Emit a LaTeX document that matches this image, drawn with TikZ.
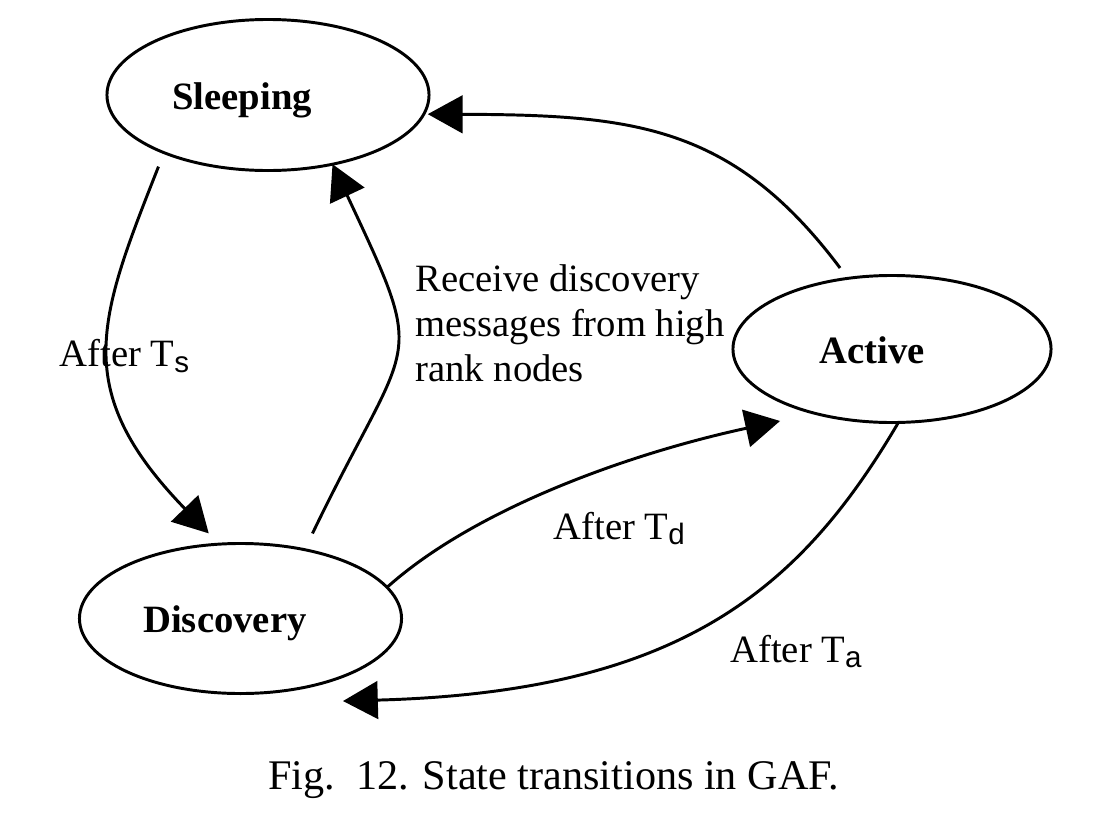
\documentclass[tikz,border=0pt]{standalone}
\usepackage{fontspec}
\setmainfont{Liberation Serif}
\newfontfamily\subfont{Liberation Sans}
\usepackage{tikz}
\usetikzlibrary{shapes.geometric,arrows.meta}

\newcommand{\tidx}[1]{\raisebox{-4pt}{\subfont\fontsize{21}{21}\selectfont #1}}

\begin{document}
\begin{tikzpicture}[x=0.025cm,y=-0.025cm,
	state/.style={ellipse,draw,line width=2.1pt,inner sep=0pt,outer sep=0pt,text height=20.4pt,text depth=0pt,font=\fontsize{27.5}{32}\selectfont\bfseries},
	lbl/.style={inner sep=0pt,font=\fontsize{27.5}{32}\selectfont},
	trans/.style={line width=2.1pt,-{Triangle[length=0.87cm,width=0.94cm]}}]
	\useasboundingbox (0,0) rectangle (1107,823);
	
	\node[state,minimum width=8.05cm,minimum height=3.775cm] (sleep) at (268,95) {Sleeping\hspace*{1.3cm}};
	\node[state,minimum width=8.05cm,minimum height=3.75cm] (disc) at (240.5,618.5) {Discovery\hspace*{0.78cm}};
	\node[state,minimum width=7.95cm,minimum height=3.675cm] (act) at (892,349) {Active\hspace*{1cm}};
	\coordinate (disc-in) at ([shift={(102.5,7.5)}]disc.south);
	
	\draw[trans,shorten <=0.375cm,shorten >=0.375cm] (sleep.209.7) .. controls (98,320) and (70,390) .. (disc.106.5);
	\draw[trans,shorten <=0.45cm] (disc.47.4) .. controls (410.9,328.9) and (429.5,371.1) .. (sleep.313.6);
	\draw[trans,shorten <=0.325cm,shorten >=0.1cm] (act.122.05) .. controls (732,124) and (632,115) .. (sleep.-7);
	\draw[trans,shorten >=0.9cm] (disc.12.1) .. controls (477,506.8) and (634.3,452.4) .. (act.220.4);
	\draw[trans] (act.275) .. controls (800,590) and (680,692) .. (disc-in);
	
	\node[lbl,anchor=base west] (after-s) at (59.3,366.7) {After T\tidx{s}};
	\node[lbl,anchor=north west,align=left] (recv) at (415,264.6) {Receive discovery\\messages from high\\rank nodes};
	\node[lbl,anchor=base west] (after-d) at (553.3,539) {After T\tidx{d}};
	\node[lbl,anchor=base west] (after-a) at (730,662.3) {After T\tidx{a}};
	
	\node[anchor=base west,inner sep=0pt,font=\fontsize{30}{36}\selectfont] (cap) at (268,789) {Fig.\ \ 12. State transitions in GAF.};
\end{tikzpicture}
\end{document}
